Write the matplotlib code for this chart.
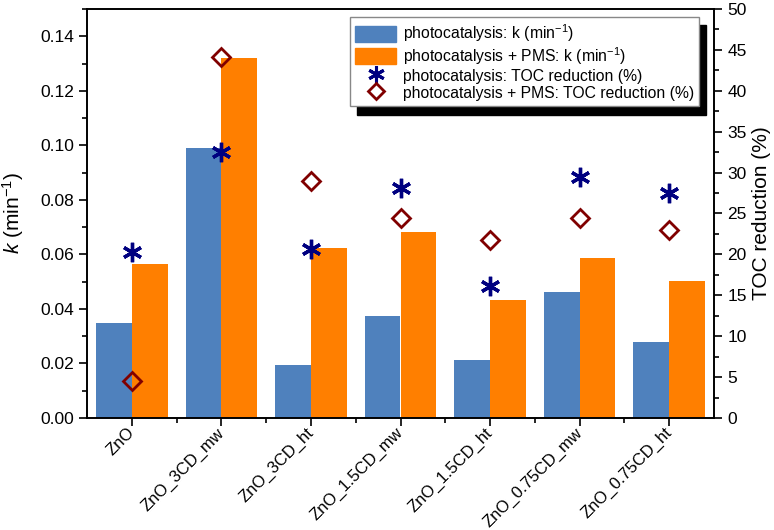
import matplotlib
matplotlib.use("Agg")
import matplotlib.pyplot as plt
import numpy as np
from matplotlib.patches import Patch
from matplotlib.lines import Line2D
from matplotlib.ticker import MultipleLocator

plt.rcParams['font.family'] = ['Liberation Sans', 'DejaVu Sans']
plt.rcParams['mathtext.fontset'] = 'custom'
plt.rcParams['mathtext.rm'] = 'Liberation Sans'
plt.rcParams['mathtext.it'] = 'Liberation Sans:italic'

categories = ["ZnO", "ZnO_3CD_mw", "ZnO_3CD_ht", "ZnO_1.5CD_mw", "ZnO_1.5CD_ht",
              "ZnO_0.75CD_mw", "ZnO_0.75CD_ht"]
k_photo = [0.0349, 0.0990, 0.0195, 0.0375, 0.0213, 0.0462, 0.0277]
k_pms = [0.0566, 0.1321, 0.0624, 0.0681, 0.0434, 0.0587, 0.0504]
toc_photo = [20.3, 32.5, 20.6, 28.1, 16.1, 29.5, 27.5]
toc_pms = [4.5, 44.1, 29.0, 24.5, 21.8, 24.5, 23.0]

blue = '#4F81BD'
orange = '#FF7F00'
navy = '#000080'
darkred = '#800000'

fig = plt.figure(figsize=(7.74, 5.30), dpi=100)
ax = fig.add_axes([87/774, 112/530, (714-87)/774, (418-9)/530])
x = np.arange(len(categories))
w = 0.4
ax.bar(x - w/2, k_photo, width=w, color=blue, zorder=2)
ax.bar(x + w/2, k_pms, width=w, color=orange, zorder=2)
ax.set_xlim(-0.5, len(categories) - 0.5)
ax.set_ylim(0, 0.15)
ax.yaxis.set_minor_locator(MultipleLocator(0.01))
yt = np.arange(0, 0.141, 0.02)
ax.set_yticks(yt)
ax.set_yticklabels([f"{v:.2f}" for v in yt])
ax.set_xticks(x)
ax.set_xticks(x[:-1] + 0.5, minor=True)
ax.set_xticklabels(categories, rotation=45, ha='right', va='center',
                   rotation_mode='anchor', fontsize=12)
ax.tick_params(which='major', direction='out', length=6, width=1.2, labelsize=12.5)
ax.tick_params(axis='x', which='major', labelsize=12, pad=3)
ax.tick_params(which='minor', direction='out', length=3.5, width=1.2)
ax.set_ylabel(r'$k$ (min$^{-1}$)', fontsize=15, labelpad=10)

ax2 = ax.twinx()
ax2.set_ylim(0, 50)
ax2.yaxis.set_major_locator(MultipleLocator(5))
ax2.yaxis.set_minor_locator(MultipleLocator(2.5))
ax2.tick_params(which='major', direction='out', length=6, width=1.2, labelsize=12.5)
ax2.tick_params(which='minor', direction='out', length=3.5, width=1.2)
ax2.plot(x, toc_photo, linestyle='none', marker=(6, 2, 0), markersize=14,
         markeredgecolor=navy, markeredgewidth=2.4, color=navy, zorder=5)
ax2.plot(x, toc_pms, linestyle='none', marker='D', markersize=9,
         markerfacecolor='none', markeredgecolor=darkred, markeredgewidth=2, zorder=5)
ax2.set_ylabel('TOC reduction (%)', fontsize=15, labelpad=4)

for a in (ax, ax2):
    for s in a.spines.values():
        s.set_linewidth(1.2)

handles = [Patch(color=blue), Patch(color=orange),
           Line2D([], [], linestyle='none', marker=(6, 2, 0), markersize=12,
                  markeredgecolor=navy, markeredgewidth=2.2, color=navy),
           Line2D([], [], linestyle='none', marker='D', markersize=8,
                  markerfacecolor='none', markeredgecolor=darkred, markeredgewidth=2)]
labels = [r'photocatalysis: k (min$^{-1}$)', r'photocatalysis + PMS: k (min$^{-1}$)',
          'photocatalysis: TOC reduction (%)', 'photocatalysis + PMS: TOC reduction (%)']
leg = ax2.legend(handles, labels, loc='upper left', bbox_to_anchor=(350/774, (530-17)/530),
                 bbox_transform=fig.transFigure, fontsize=11.3, fancybox=False,
                 edgecolor='#888888', framealpha=1, borderaxespad=0,
                 handlelength=2.6, handleheight=1.2, handletextpad=0.4,
                 labelspacing=0.05, borderpad=0.35,
                 shadow={'ox': 5, 'oy': -6, 'color': 'black', 'alpha': 1})
leg.get_frame().set_linewidth(1.0)
leg.set_zorder(10)

fig.savefig('out.png', dpi=100)
